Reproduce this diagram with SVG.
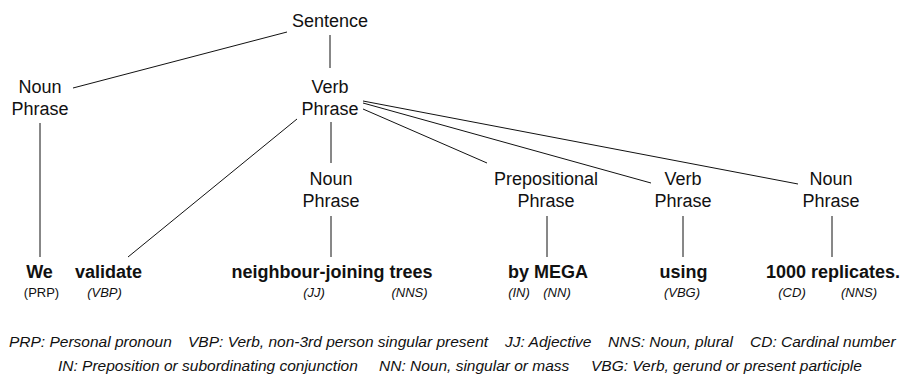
<svg xmlns="http://www.w3.org/2000/svg" width="903" height="380" viewBox="0 0 903 380">
  <style>
    text { font-family: "Liberation Sans", Arial, sans-serif; fill: #111; }
    .phrase { font-size: 18px; text-anchor: middle; }
    .word { font-size: 18px; font-weight: bold; text-anchor: middle; }
    .tag { font-size: 13px; font-style: italic; text-anchor: middle; }
    .tag.plain { font-style: normal; }
    .legend { font-size: 15.5px; font-style: italic; }
    .edge { stroke: #111; stroke-width: 1; fill: none; }
  </style>
  <rect width="903" height="380" fill="#fff"/>

  <g id="connectors">
    <line class="edge" x1="287" y1="32" x2="73" y2="88"/>
    <line class="edge" x1="330" y1="35" x2="330" y2="68"/>
    <line class="edge" x1="40" y1="123" x2="40" y2="257"/>
    <line class="edge" x1="297" y1="119" x2="128" y2="257"/>
    <line class="edge" x1="331" y1="122" x2="331" y2="163"/>
    <line class="edge" x1="331" y1="216" x2="331" y2="257"/>
    <line class="edge" x1="363" y1="109" x2="487" y2="163"/>
    <line class="edge" x1="363" y1="103" x2="651" y2="183"/>
    <line class="edge" x1="363" y1="101" x2="798" y2="184"/>
    <line class="edge" x1="547" y1="216" x2="547" y2="257"/>
    <line class="edge" x1="683" y1="216" x2="683" y2="257"/>
    <line class="edge" x1="832" y1="216" x2="832" y2="257"/>
  </g>

  <g id="sentence">
    <text class="phrase" x="330" y="27">Sentence</text>
  </g>
  <g id="np-subject">
    <text class="phrase" x="40" y="93">Noun</text>
    <text class="phrase" x="40" y="115">Phrase</text>
  </g>
  <g id="vp-main">
    <text class="phrase" x="330" y="93">Verb</text>
    <text class="phrase" x="330" y="115">Phrase</text>
  </g>
  <g id="np-object">
    <text class="phrase" x="331" y="185">Noun</text>
    <text class="phrase" x="331" y="207">Phrase</text>
  </g>
  <g id="pp">
    <text class="phrase" x="546" y="185">Prepositional</text>
    <text class="phrase" x="546" y="207">Phrase</text>
  </g>
  <g id="vp-using">
    <text class="phrase" x="683" y="185">Verb</text>
    <text class="phrase" x="683" y="207">Phrase</text>
  </g>
  <g id="np-replicates">
    <text class="phrase" x="831" y="185">Noun</text>
    <text class="phrase" x="831" y="207">Phrase</text>
  </g>

  <g id="w-we">
    <text class="word" x="39.5" y="278">We</text>
    <text class="tag plain" x="41.5" y="297">(PRP)</text>
  </g>
  <g id="w-validate">
    <text class="word" x="108.5" y="278">validate</text>
    <text class="tag" x="104.5" y="297">(VBP)</text>
  </g>
  <g id="w-trees">
    <text class="word" x="332" y="278">neighbour-joining trees</text>
    <text class="tag" x="314" y="297">(JJ)</text>
    <text class="tag" x="409.5" y="297">(NNS)</text>
  </g>
  <g id="w-mega">
    <text class="word" x="548" y="278">by MEGA</text>
    <text class="tag" x="519" y="297">(IN)</text>
    <text class="tag" x="557" y="297">(NN)</text>
  </g>
  <g id="w-using">
    <text class="word" x="683.5" y="278">using</text>
    <text class="tag" x="682" y="297">(VBG)</text>
  </g>
  <g id="w-replicates">
    <text class="word" x="833" y="278">1000 replicates.</text>
    <text class="tag" x="792" y="297">(CD)</text>
    <text class="tag" x="859" y="297">(NNS)</text>
  </g>

  <g id="legend">
    <text class="legend" y="347"><tspan x="9">PRP: Personal pronoun</tspan><tspan x="188">VBP: Verb, non-3rd person singular present</tspan><tspan x="505">JJ: Adjective</tspan><tspan x="608">NNS: Noun, plural</tspan><tspan x="750">CD: Cardinal number</tspan></text>
    <text class="legend" y="371"><tspan x="58">IN: Preposition or subordinating conjunction</tspan><tspan x="379">NN: Noun, singular or mass</tspan><tspan x="591">VBG: Verb, gerund or present participle</tspan></text>
  </g>
</svg>
